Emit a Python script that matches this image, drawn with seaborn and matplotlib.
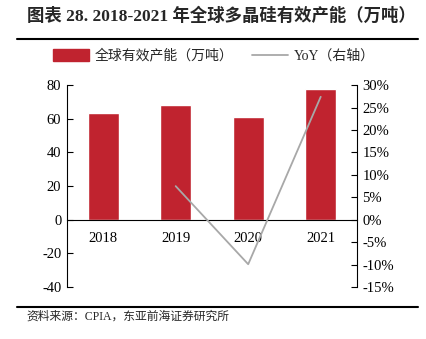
import matplotlib
matplotlib.use("Agg")
import matplotlib.pyplot as plt
import seaborn as sns
import pandas as pd
from matplotlib.lines import Line2D
from matplotlib.patches import Patch
from matplotlib.ticker import FuncFormatter

years = ["2018", "2019", "2020", "2021"]
capacity = [63.3, 67.9, 61.1, 77.6]
yoy_years = ["2019", "2020", "2021"]
yoy = [7.5, -9.9, 27.4]
left_ticks = [-40, -20, 0, 20, 40, 60, 80]
right_ticks = [-15, -10, -5, 0, 5, 10, 15, 20, 25, 30]

title = "图表 28. 2018-2021 年全球多晶硅有效产能（万吨）"
bar_label = "全球有效产能（万吨）"
line_label = "YoY（右轴）"
source = "资料来源：CPIA，东亚前海证券研究所"

sns.set_theme(style="white")
plt.rcParams["font.family"] = ["Liberation Serif", "Noto Sans CJK SC"]
plt.rcParams["axes.unicode_minus"] = False

red = "#C0232F"
gray = "#A8A8A8"

fig = plt.figure(figsize=(4.26, 3.39), dpi=100)
ax = fig.add_axes([0.157, 0.153, 0.681, 0.596])

df = pd.DataFrame({"year": years, "cap": capacity})
sns.barplot(data=df, x="year", y="cap", color=red, width=0.43, saturation=1, ax=ax)
ax.set_xlim(-0.5, 3.5)
ax.set_ylim(-40, 80)
ax.set_yticks(left_ticks)
ax.set_xlabel("")
ax.set_ylabel("")

ax2 = ax.twinx()
ax2.set_position(ax.get_position())
pos = [years.index(y) for y in yoy_years]
sns.lineplot(x=pos, y=yoy, color=gray, linewidth=1.3, ax=ax2)
ax2.set_ylim(-15, 30)
ax2.set_yticks(right_ticks)
ax2.yaxis.set_major_formatter(FuncFormatter(lambda v, p: f"{int(v)}%"))
ax2.set_xlim(-0.5, 3.5)

for a in (ax, ax2):
    a.spines["top"].set_visible(False)
    a.tick_params(axis="y", direction="in", length=4, width=0.8, colors="black",
                  labelsize=10.5, pad=4)
ax.spines["right"].set_visible(False)
ax2.spines["left"].set_visible(False)
ax2.spines["bottom"].set_visible(False)
ax.spines["left"].set_color("black")
ax.spines["left"].set_linewidth(0.8)
ax2.spines["right"].set_color("black")
ax2.spines["right"].set_linewidth(0.8)
ax.spines["bottom"].set_position(("data", 0))
ax.spines["bottom"].set_color("black")
ax.spines["bottom"].set_linewidth(0.8)
ax.tick_params(axis="x", length=0, labelsize=10.5, pad=9, colors="black")

handles = [Patch(facecolor=red, edgecolor=red),
           Line2D([0], [0], color=gray, linewidth=1.3)]
fig.legend(handles, [bar_label, line_label], loc="center", ncol=2,
           bbox_to_anchor=(0.502, 0.835), frameon=False, fontsize=10,
           handlelength=2.6, handleheight=0.9, columnspacing=1.3, handletextpad=0.4)

fig.text(0.063, 0.952, title, fontsize=12.5, fontweight="bold", va="center", ha="left")
fig.add_artist(Line2D([0.04, 0.981], [0.885, 0.885], color="black", linewidth=1.5))
fig.add_artist(Line2D([0.04, 0.981], [0.094, 0.094], color="black", linewidth=1.5))
fig.text(0.063, 0.067, source, fontsize=8.5, va="center", ha="left")

fig.savefig("out.png", dpi=100)
